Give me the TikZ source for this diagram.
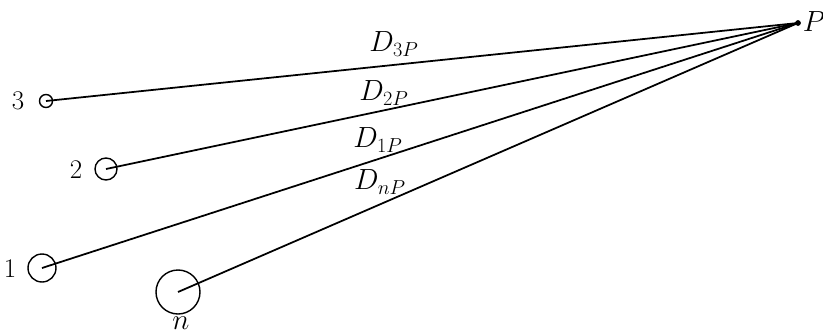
\documentclass[tikz,border=0pt]{standalone}
\usepackage{amsmath,amssymb}
\usepackage{xcolor}
\usepackage{tikz}
\usetikzlibrary{positioning}

\begin{document}
\begin{tikzpicture}[x=0.03cm,y=-0.03cm,font=\fontsize{23}{26}\selectfont,
		conductor/.style={draw,circle,inner sep=0pt,line width=1.2pt},
		distline/.style={line width=1.5pt}]
			\useasboundingbox (0,0) rectangle (823,333);
			
			\node[conductor,minimum size=0.39cm] (c3) at (46,101) {};
			\node[conductor,minimum size=0.66cm] (c2) at (106,169) {};
			\node[conductor,minimum size=0.84cm] (c1) at (42,268) {};
			\node[conductor,minimum size=1.32cm] (cn) at (178,292) {};
			
			\filldraw (798,23) circle (2.2pt);
			\coordinate (P) at (798,23);
			\node (lP) at (814,22) {$P$};
			
			\node (l3) at (18,101) {3};
			\node (l2) at (76,170) {2};
			\node (l1) at (10,269) {1};
			\node[inner sep=0pt] (ln) at (181,323) {$n$};
			
			\draw[distline] (c3.center) -- (P);
			\draw[distline] (c2.center) -- (P);
			\draw[distline] (c1.center) -- (P);
			\draw[distline] (cn.center) -- (P);
			
			\node at (394,44) {$D_{3P}$};
			\node at (384,93) {$D_{2P}$};
			\node at (378,140) {$D_{1P}$};
			\node at (380,182) {$D_{nP}$};
			
		\end{tikzpicture}
\end{document}
